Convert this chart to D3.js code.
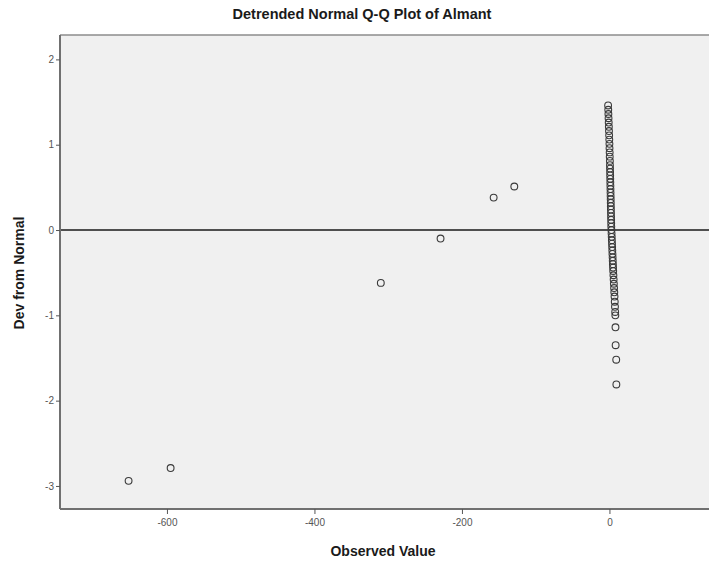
<!DOCTYPE html>
<html>
<head>
<meta charset="utf-8">
<script src="https://cdn.jsdelivr.net/npm/d3@7"></script>
<style>
  html, body { margin: 0; padding: 0; background: #ffffff; }
  svg { display: block; }
  text { font-family: "Liberation Sans", Arial, sans-serif; }
</style>
</head>
<body>
<svg id="chart" width="709" height="570"></svg>
<script>
// ---- Data ----
const title = "Detrended Normal Q-Q Plot of Almant";
const xLabel = "Observed Value";
const yLabel = "Dev from Normal";

const xTicks = [-600, -400, -200, 0];
const yTicks = [-3, -2, -1, 0, 1, 2];

// Isolated low observations
const outlierX = [-652, -595, -310, -229, -157, -129];
const outlierY = [-2.94, -2.79, -0.62, -0.10, 0.38, 0.51];

// Dense column of observations near zero
const columnX = [-1.8, -1.6, -1.4, -1.2, -1.0, -0.8, -0.6, -0.4, -0.2, 0.0,
                 0.1, 0.3, 0.4, 0.6, 0.7, 0.8, 0.9, 1.0, 1.1, 1.2,
                 1.3, 1.4, 1.5, 1.6, 1.7, 1.8, 1.9, 2.0, 2.1, 2.2,
                 2.3, 2.4, 2.5, 2.7, 2.9, 3.1, 3.3, 3.5, 3.7, 3.9,
                 4.1, 4.3, 4.5, 4.7, 4.9, 5.1, 5.4, 5.7, 6.0, 6.3,
                 6.6, 6.9, 7.2, 7.5, 7.8, 8.0, 8.2, 8.4, 9.2, 9.4];
const columnY = [1.46, 1.41, 1.36, 1.31, 1.26, 1.21, 1.16, 1.11, 1.06, 1.01,
                 0.96, 0.91, 0.86, 0.81, 0.76, 0.72, 0.68, 0.64, 0.60, 0.56,
                 0.52, 0.48, 0.44, 0.40, 0.36, 0.32, 0.28, 0.24, 0.20, 0.16,
                 0.12, 0.08, 0.04, 0.00, -0.04, -0.08, -0.12, -0.16, -0.20, -0.24,
                 -0.28, -0.32, -0.36, -0.40, -0.44, -0.48, -0.53, -0.58, -0.63, -0.68,
                 -0.73, -0.78, -0.84, -0.90, -0.96, -1.00, -1.14, -1.35, -1.52, -1.81];

// ---- Layout ----
const W = 709, H = 570;
const plot = { left: 60, top: 35, right: 709, bottom: 509 };

const svg = d3.select("#chart");

const x = d3.scaleLinear().domain([-745, 135]).range([plot.left, plot.right]);
const y = d3.scaleLinear().domain([-3.27, 2.286]).range([plot.bottom, plot.top]);

// Plot background
svg.append("rect")
  .attr("x", plot.left).attr("y", plot.top)
  .attr("width", plot.right - plot.left + 2).attr("height", plot.bottom - plot.top)
  .attr("fill", "#f0f0f0");

// Frame: top line
svg.append("line")
  .attr("x1", plot.left).attr("x2", W).attr("y1", plot.top).attr("y2", plot.top)
  .attr("stroke", "#8c8c8c").attr("stroke-width", 1.5);

// Axes (plain hyphen minus, as in the reference)
const fmt = d => String(d);
const xAxis = d3.axisBottom(x).tickValues(xTicks).tickSize(5).tickPadding(5).tickFormat(fmt);
const yAxis = d3.axisLeft(y).tickValues(yTicks).tickSize(4).tickPadding(2).tickFormat(fmt);

const gx = svg.append("g").attr("transform", `translate(0,${plot.bottom})`).call(xAxis);
const gy = svg.append("g").attr("transform", `translate(${plot.left},0)`).call(yAxis);

[gx, gy].forEach(g => {
  g.select(".domain").attr("stroke", "#707070").attr("stroke-width", 2);
  g.selectAll(".tick line").attr("stroke", "#555").attr("stroke-width", 1);
  g.selectAll(".tick text")
    .attr("fill", "#555")
    .style("font-size", "10px")
    .style("font-family", "'Liberation Sans', Arial, sans-serif");
});
gx.select(".domain").attr("d", `M${plot.left},0H${W}`);
gy.select(".domain").attr("d", `M0,${plot.top}V${plot.bottom}`);

// Zero reference line
svg.append("line")
  .attr("x1", plot.left + 1).attr("x2", W)
  .attr("y1", y(0)).attr("y2", y(0))
  .attr("stroke", "#1a1a1a").attr("stroke-width", 1.5);

// Points
const pts = [];
outlierX.forEach((v, i) => pts.push([v, outlierY[i]]));
columnX.forEach((v, i) => pts.push([v, columnY[i]]));

svg.append("g").selectAll("circle")
  .data(pts).join("circle")
  .attr("cx", d => x(d[0]))
  .attr("cy", d => y(d[1]))
  .attr("r", 3.4)
  .attr("fill", "none")
  .attr("stroke", "#3a3a3a")
  .attr("stroke-width", 1.1);

// Title
svg.append("text")
  .attr("x", 362).attr("y", 19)
  .attr("text-anchor", "middle")
  .style("font-size", "14.5px").style("font-weight", "bold")
  .attr("fill", "#1a1a1a")
  .text(title);

// X label
svg.append("text")
  .attr("x", 383).attr("y", 556)
  .attr("text-anchor", "middle")
  .style("font-size", "14px").style("font-weight", "bold")
  .attr("fill", "#1a1a1a")
  .text(xLabel);

// Y label
svg.append("text")
  .attr("transform", `translate(24,273) rotate(-90)`)
  .attr("text-anchor", "middle")
  .style("font-size", "14px").style("font-weight", "bold")
  .attr("fill", "#1a1a1a")
  .text(yLabel);
</script>
</body>
</html>
